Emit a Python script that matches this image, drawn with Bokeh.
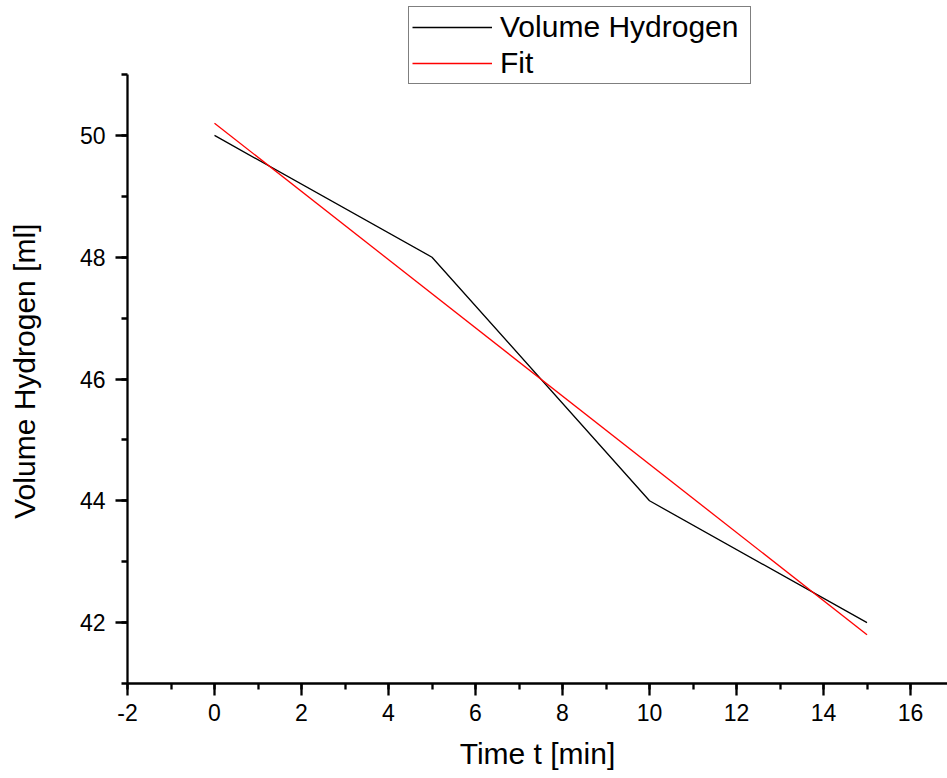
from bokeh.plotting import figure
from bokeh.models import Range1d, SingleIntervalTicker, Legend, LegendItem, PrintfTickFormatter
from bokeh.embed import file_html
from bokeh.resources import INLINE

time_min = [0, 5, 10, 15]
volume_ml = [50, 48, 44, 42]
fit_time = [0, 15]
fit_volume = [50.2, 41.8]

FONT = "Liberation Sans"

# plot frame spans the full height so the legend can overlap the axis top;
# the axis itself is bounded to 41..51
y_end = 41 + 683 / 60.9

p = figure(width=947, height=778, output_backend="svg", toolbar_location=None,
           x_range=Range1d(-2, 16.85), y_range=Range1d(41, y_end),
           min_border_left=127, min_border_right=0, min_border_top=0,
           min_border_bottom=95)
p.outline_line_color = None
p.grid.visible = False
p.background_fill_color = "white"
p.border_fill_color = "white"

r1 = p.line(time_min, volume_ml, line_color="black", line_width=1.3)
r2 = p.line(fit_time, fit_volume, line_color="#ff0000", line_width=1.3)

p.xaxis.ticker = SingleIntervalTicker(interval=2, num_minor_ticks=2)
p.yaxis.ticker = SingleIntervalTicker(interval=2, num_minor_ticks=2)
p.xaxis.formatter = PrintfTickFormatter(format="%d")
p.yaxis.formatter = PrintfTickFormatter(format="%d")
p.yaxis.bounds = (41, 51)

for ax in (p.xaxis[0], p.yaxis[0]):
    ax.axis_line_width = 2.3
    ax.axis_line_color = "black"
    ax.major_tick_line_width = 2.3
    ax.minor_tick_line_width = 2.3
    ax.major_tick_out = 12
    ax.major_tick_in = 0
    ax.minor_tick_out = 6
    ax.minor_tick_in = 0
    ax.major_label_text_font = FONT
    ax.major_label_text_font_size = "23px"
    ax.major_label_text_color = "black"
    ax.axis_label_text_font = FONT
    ax.axis_label_text_font_size = "30px"
    ax.axis_label_text_font_style = "normal"
    ax.axis_label_text_color = "black"

p.xaxis.major_label_standoff = 8
p.yaxis.major_label_standoff = 10
p.xaxis.axis_label = "Time t [min]"
# trailing no-break spaces centre the visible text on the bounded axis (41..51)
p.yaxis.axis_label = "Volume Hydrogen [ml]" + "\u00a0" * 7
p.xaxis.axis_label_standoff = 13
p.yaxis.axis_label_standoff = 36

legend = Legend(items=[LegendItem(label="Volume Hydrogen", renderers=[r1]),
                       LegendItem(label="Fit", renderers=[r2])],
                location=(281, 599))
legend.border_line_color = "black"
legend.border_line_width = 1
legend.background_fill_color = "white"
legend.background_fill_alpha = 1
legend.label_text_font = FONT
legend.label_text_font_size = "30px"
legend.label_text_color = "black"
legend.glyph_width = 80
legend.glyph_height = 28
legend.label_height = 28
legend.label_width = 247
legend.label_standoff = 8
legend.spacing = 2
legend.padding = 3
legend.margin = 0
p.add_layout(legend, "center")

open("out.html", "w").write(file_html(p, INLINE))
